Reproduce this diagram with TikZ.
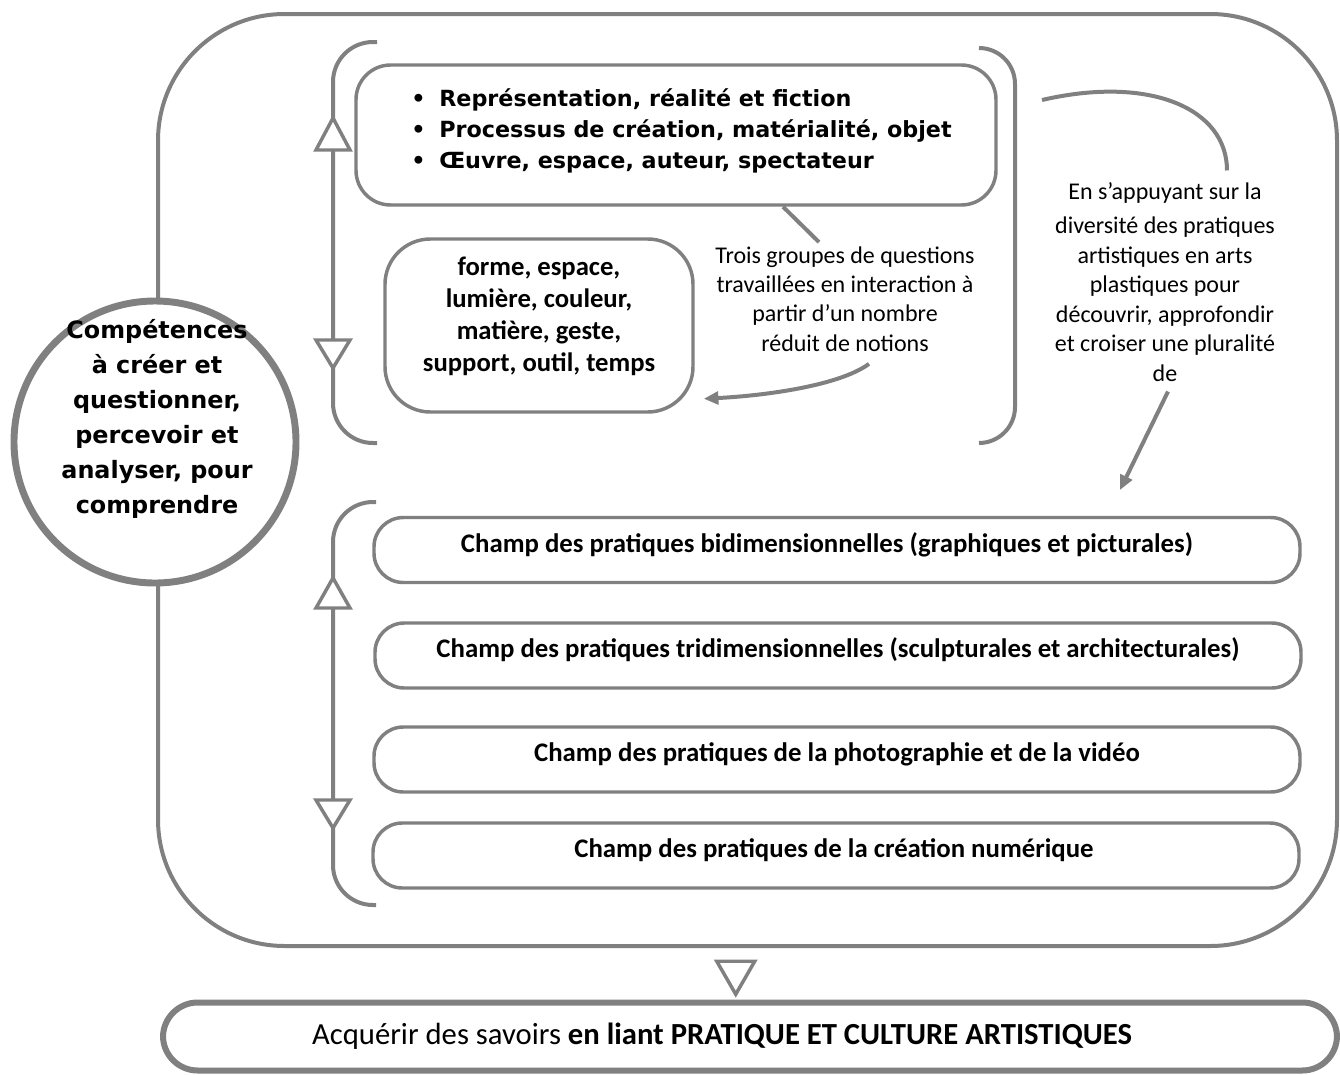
\documentclass[tikz,border=0pt]{standalone}
\usepackage{fontspec}
\setmainfont{Carlito}
\newfontfamily\verd{DejaVu Sans}
\usetikzlibrary{arrows.meta,calc}
\definecolor{ln}{RGB}{128,128,128}
\begin{document}
\begin{tikzpicture}[x=0.75pt,y=-0.75pt,
  brk/.style={draw=ln, line width=3pt, rounded corners=30pt},
  box/.style={draw=ln, line width=2.6pt, fill=white, rounded corners=#1, inner sep=0pt},
  box/.default=22pt,
  tri/.style={draw=ln, line width=2.6pt, fill=white, line join=miter},
  conn/.style={draw=ln, line width=3pt},
  arr/.style={conn, -{Triangle[length=11pt,width=9.5pt]}},
  field/.style={box=22pt, minimum width=694.5pt, minimum height=48.75pt,
    font=\bfseries\fontsize{20.1}{24}\selectfont, text height=12pt, text depth=8.4pt},
  note/.style={align=center, font=\fontsize{18}{22.1}\selectfont, inner sep=0pt}
]
\useasboundingbox (0,0) rectangle (1340,1075);

% outer frame
\node[draw=ln, line width=3pt, rounded corners=95pt, minimum width=884.25pt,
      minimum height=699pt, inner sep=0pt] (frame) at (747.5,480) {};

% competences circle
\node[circle, draw=ln, line width=5.2pt, fill=white, minimum size=211.5pt, inner sep=0pt] (comp) at (155,442) {};
\node[align=center, inner sep=0pt, font={\verd\bfseries\fontsize{17.9}{26.25}\selectfont}] (comptext) at (157,419)
  {Compétences\\à créer et\\questionner,\\percevoir et\\analyser, pour\\comprendre};

% brackets of the upper group
\draw[brk] (377,42) -- (333,42) -- (333,443) -- (377,443);
\draw[brk, rounded corners=27pt] (979,48) -- (1015,48) -- (1015,443) -- (979,443);
\draw[tri] (333,118) -- (350,150) -- (316,150) -- cycle;
\draw[tri] (316,340) -- (350,340) -- (333,368) -- cycle;

% brackets of the lower group
\draw[brk] (376,502) -- (333,502) -- (333,905) -- (376,905);
\draw[tri] (333,578) -- (350,608) -- (316,608) -- cycle;
\draw[tri] (316,800) -- (350,800) -- (333,828) -- cycle;

% themes box
\node[box=26pt, minimum width=480pt, minimum height=105pt] (themes) at (676,135) {};
\node[anchor=west, align=left, inner sep=0pt, font={\verd\bfseries\fontsize{16.7}{23.25}\selectfont}] (themestext) at (411,131)
  {\makebox[21pt][l]{•}Représentation, réalité et fiction\\
   \makebox[21pt][l]{•}Processus de création, matérialité, objet\\
   \makebox[21pt][l]{•}Œuvre, espace, auteur, spectateur};

% notions box
\node[box=34pt, minimum width=231pt, minimum height=129.75pt] (notions) at (539,325.5) {};
\node[align=center, inner sep=0pt, font={\bfseries\fontsize{20}{24}\selectfont}] (notionstext) at (539,316)
  {forme, espace,\\lumière, couleur,\\matière, geste,\\support, outil, temps};

% callouts
\node[note] (callA) at (845,299)
  {Trois groupes de questions\\travaillées en interaction à\\partir d’un nombre\\réduit de notions};
\node[note] (callB) at (1165,282)
  {En s’appuyant sur la\\[3.5pt]diversité des pratiques\\artistiques en arts\\plastiques pour\\découvrir, approfondir\\et croiser une pluralité\\de};

\draw[conn] ($(themes.south)+(107,0)$) -- ($(callA.north)+(-26,-4)$);
\draw[arr] ($(callA.south)+(24,12)$) .. controls +(-30,22) and +(60,-3) .. ($(notions.south east)+(9,-15)$);

\coordinate (arcS) at (1042,100);
\coordinate (arrEnd) at (1120,490);
\draw[conn] (arcS) .. controls +(108,-25) and +(0,-62) .. ($(callB.north)+(62,-12)$);
\draw[arr] ($(callB.south)+(3,10)$) -- (arrEnd);

% fields of practice
\node[field] (f1) at (837,550) {Champ des pratiques bidimensionnelles (graphiques et picturales)\hspace*{15pt}};
\node[field] (f2) at (838,655.5) {Champ des pratiques tridimensionnelles (sculpturales et architecturales)};
\node[field] (f3) at (837,759.5) {Champ des pratiques de la photographie et de la vidéo};
\node[field] (f4) at (836,855.5) {Champ des pratiques de la création numérique\hspace*{3pt}};

% outcome
\node[draw=ln, line width=4.5pt, rounded corners=26pt, fill=white, minimum width=880.5pt,
      minimum height=51pt, inner sep=0pt, font=\fontsize{23}{27}\selectfont] (savoirs) at (750,1036.5)
  {Acquérir des savoirs \textbf{en liant PRATIQUE ET CULTURE ARTISTIQUES}\hspace*{42pt}};

\coordinate (mid) at ($(frame.south)!0.5!(savoirs.north)+(-13,4)$);
\draw[tri] ($(mid)+(-19,-16.5)$) -- ($(mid)+(19,-16.5)$) -- ($(mid)+(0,16.5)$) -- cycle;
\end{tikzpicture}
\end{document}
